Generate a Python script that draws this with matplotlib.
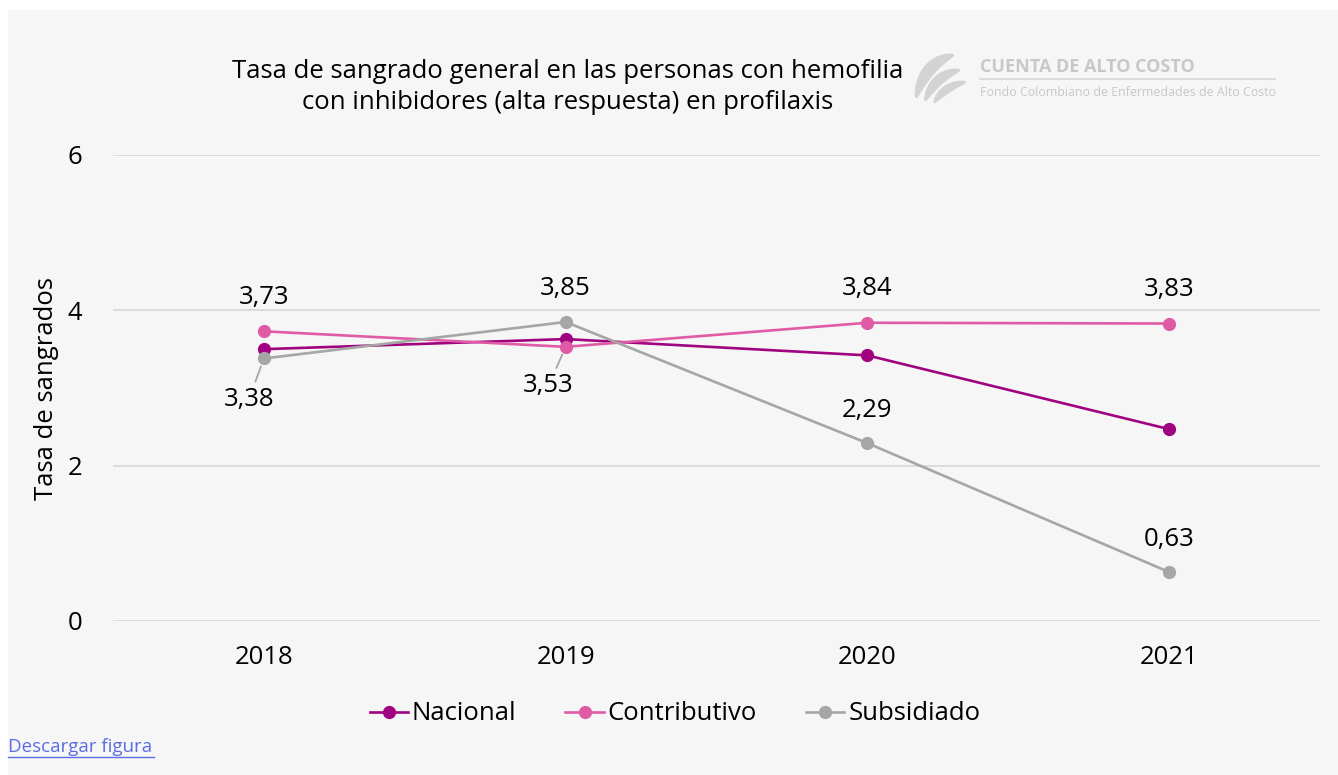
import numpy as np
import matplotlib
matplotlib.use("Agg")
import matplotlib.pyplot as plt
from matplotlib.patches import Rectangle, Polygon

plt.rcParams['font.family'] = ['Open Sans', 'DejaVu Sans']

years = ['2018', '2019', '2020', '2021']
nacional = [3.50, 3.63, 3.42, 2.47]
contributivo = [3.73, 3.53, 3.84, 3.83]
subsidiado = [3.38, 3.85, 2.29, 0.63]
series_names = ['Nacional', 'Contributivo', 'Subsidiado']
colors = ['#a0037f', '#e05ba6', '#a6a6a6']

W, H = 1338, 775
fig = plt.figure(figsize=(W / 100, H / 100), dpi=100)
fig.patch.set_facecolor('white')
fig.patches.append(Rectangle((8 / W, 0), 1, 1 - 10 / H, transform=fig.transFigure,
                             facecolor='#f6f6f6', edgecolor='none', zorder=-5))

ax = fig.add_axes([113 / W, 1 - 621 / H, (1320 - 113) / W, (621 - 155) / H])
ax.set_facecolor('none')
x = np.arange(len(years))

for vals, name, c in zip([nacional, contributivo, subsidiado], series_names, colors):
    ax.plot(x, vals, color=c, lw=1.9, marker='o', ms=8.5, label=name, zorder=3)

# etiquetas (solo contributivo y subsidiado)
lab = lambda v: f'{v:.2f}'.replace('.', ',')
fs = 18.5
px = 0.72  # pixeles -> puntos
for i, v in enumerate(contributivo):
    if i == 1:
        continue
    ax.annotate(lab(v), (i, v), xytext=(0, 34 * px), textcoords='offset points',
                ha='center', va='center', fontsize=fs)
ax.annotate(lab(contributivo[1]), (1, contributivo[1]), xytext=(-17 * px, -39 * px),
            textcoords='offset points', ha='center', va='center', fontsize=fs,
            arrowprops=dict(arrowstyle='-', color='#a6a6a6', lw=1.3,
                            shrinkA=2, shrinkB=6))
ax.annotate(lab(subsidiado[0]), (0, subsidiado[0]), xytext=(-15 * px, -41 * px),
            textcoords='offset points', ha='center', va='center', fontsize=fs,
            arrowprops=dict(arrowstyle='-', color='#a6a6a6', lw=1.3,
                            shrinkA=2, shrinkB=6))
for i in [1, 2, 3]:
    ax.annotate(lab(subsidiado[i]), (i, subsidiado[i]), xytext=(0, 33 * px),
                textcoords='offset points', ha='center', va='center', fontsize=fs)

ax.set_xlim(-0.5, 3.5)
ax.set_ylim(0, 6)
ax.set_yticks([0, 2, 4, 6])
ax.set_xticks(x)
ax.set_xticklabels(years)
ax.grid(axis='y', color='#d9d9d9', lw=1.3)
ax.set_axisbelow(True)
for s in ax.spines.values():
    s.set_visible(False)
ax.tick_params(length=0, labelsize=fs, pad=17)
ax.tick_params(axis='y', pad=22)
ax.set_ylabel('Tasa de sangrados', fontsize=fs, labelpad=6)

fig.text(568 / W, 1 - 87 / H,
         'Tasa de sangrado general en las personas con hemofilia\ncon inhibidores (alta respuesta) en profilaxis',
         ha='center', va='center', fontsize=fs, linespacing=1.3)

leg = ax.legend(loc='center', bbox_to_anchor=(675 / W, 1 - 714 / H),
                bbox_transform=fig.transFigure, ncol=3, frameon=False,
                fontsize=fs, handlelength=1.5, handletextpad=0.15, columnspacing=1.9)

# logo (en pixeles de la figura)
lax = fig.add_axes([0, 0, 1, 1])
lax.set_xlim(0, W)
lax.set_ylim(H, 0)
lax.axis('off')
t = np.linspace(0, 1, 40)
strokes = [((916, 98), (925, 62), (954, 55), 11),
           ((925, 101), (935, 75), (960, 70), 9),
           ((934, 103), (944, 86), (966, 82), 7)]
for p0, p1, p2, w in strokes:
    p0, p1, p2 = map(np.array, (p0, p1, p2))
    pts = ((1 - t) ** 2)[:, None] * p0 + (2 * (1 - t) * t)[:, None] * p1 + (t ** 2)[:, None] * p2
    d = np.gradient(pts, axis=0)
    n = np.stack([-d[:, 1], d[:, 0]], axis=1)
    n /= np.linalg.norm(n, axis=1)[:, None]
    half = w / 2 * np.sin(np.pi * t) ** 0.7 + 0.8
    poly = np.vstack([pts + n * half[:, None], (pts - n * half[:, None])[::-1]])
    lax.add_patch(Polygon(poly, closed=True, facecolor='#d3d3d3', edgecolor='none'))
lax.text(980, 67, 'CUENTA DE ALTO COSTO', fontsize=13, fontweight='bold',
         color='#c8c8c8', va='center', ha='left')
lax.plot([980, 1275], [79, 79], color='#d6d6d6', lw=1.2)
lax.text(980, 92, 'Fondo Colombiano de Enfermedades de Alto Costo',
         fontsize=8.9, color='#c8c8c8', va='center', ha='left')

lax.text(8, 747, 'Descargar figura', fontsize=13.5, color='#5b6ee1',
         va='center', ha='left')
lax.plot([8, 154], [757, 757], color='#5b6ee1', lw=1)

fig.savefig('out.png', dpi=100, facecolor=fig.get_facecolor())
